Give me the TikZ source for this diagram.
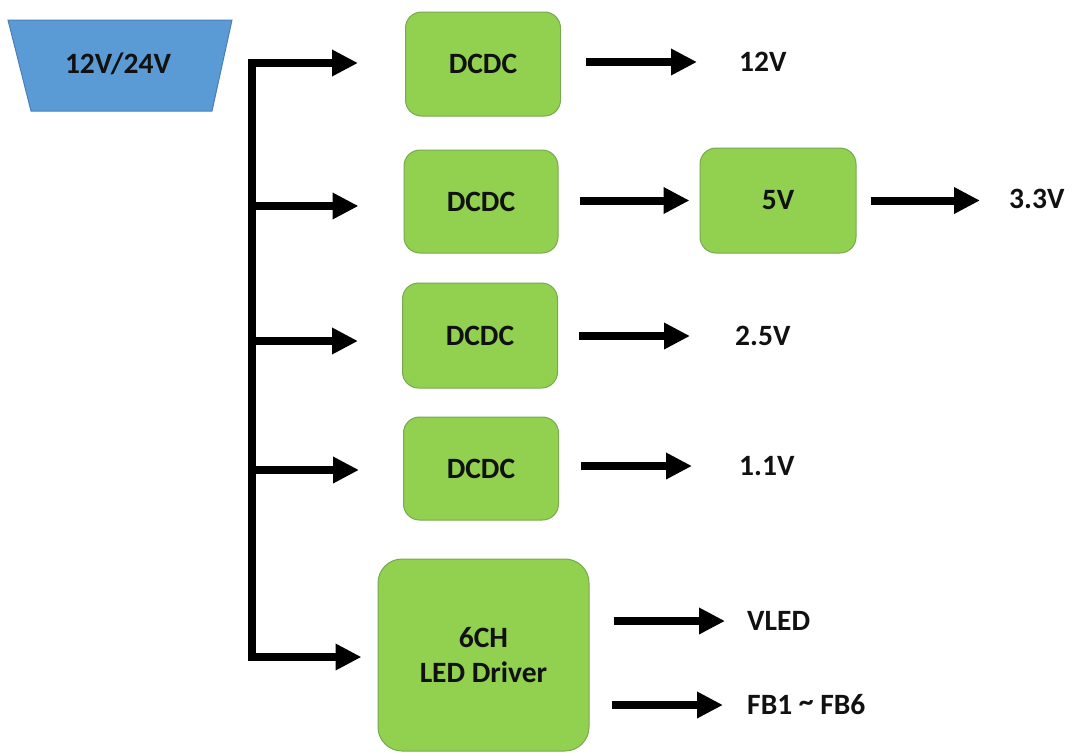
\documentclass[tikz,border=0pt]{standalone}
\usepackage{fontspec}
\setmainfont{Carlito}
\usetikzlibrary{arrows.meta}
\definecolor{srcfill}{HTML}{5B9BD5}
\definecolor{srcdraw}{HTML}{4A7FB5}
\definecolor{boxfill}{HTML}{92D050}
\definecolor{boxdraw}{HTML}{78A850}
\definecolor{txt}{HTML}{111111}
\tikzset{
  lbl/.style={font=\fontsize{29.5}{35}\selectfont\bfseries, text=txt, inner sep=0pt},
  blk/.style={draw=boxdraw, line width=1pt, fill=boxfill, rounded corners=16pt,
    font=\fontsize{29.5}{35}\selectfont\bfseries, text=txt, align=center, inner sep=0pt},
  arr/.style={line width=8pt, -{Triangle[length=26pt,width=25pt]}, line join=miter},
}
\begin{document}
\begin{tikzpicture}[x=1pt,y=-1pt]
\useasboundingbox (0,0) rectangle (1075,755);
% source trapezoid
\draw[fill=srcfill, draw=srcdraw, line width=1pt] (8,20) -- (232,20) -- (212,111) -- (31,111) -- cycle;
\node[lbl] (src) at (118,64) {12V/24V};
% blocks
\node[blk, minimum width=155pt, minimum height=104pt] (d1) at (483,64) {DCDC};
\node[blk, minimum width=154pt, minimum height=103pt] (d2) at (481,201.5) {DCDC};
\node[blk, minimum width=155pt, minimum height=105pt] (d3) at (480,335.5) {DCDC};
\node[blk, minimum width=155pt, minimum height=103pt] (d4) at (481,468.5) {DCDC};
\node[blk, minimum width=156pt, minimum height=105pt] (v5) at (778,200.5) {5V};
\node[blk, minimum width=211pt, minimum height=192pt, rounded corners=24pt] (led) at (483.5,655) {6CH\\LED Driver};
% output labels
\node[lbl, anchor=west] (o12) at (739,62) {12V};
\node[lbl, anchor=west] (o33) at (1009,199) {3.3V};
\node[lbl, anchor=west] (o25) at (735,336) {2.5V};
\node[lbl, anchor=west] (o11) at (739,466) {1.1V};
\node[lbl, anchor=west] (ovl) at (747,621) {VLED};
\node[lbl, anchor=west] (ofb) at (747,705) {FB1 \raisebox{3pt}{\textasciitilde} FB6};
% bus coordinates
\coordinate (b1) at (252,63);
\coordinate (b2) at (252,206);
\coordinate (b3) at (252,341);
\coordinate (b4) at (252,470);
\coordinate (b5) at (252,657);
% bus and branches
\draw[arr] (b5) -- (b1) -- ([xshift=-47pt]d1.west |- b1);
\draw[arr] (b2) -- ([xshift=-45pt]d2.west |- b2);
\draw[arr] (b3) -- ([xshift=-44pt]d3.west |- b3);
\draw[arr] (b4) -- ([xshift=-44pt]d4.west |- b4);
\draw[arr] (b4) -- (b5) -- ([xshift=-16pt]led.west |- b5);
% outputs
\draw[arr] ([xshift=25pt]d1.east |- o12) -- ([xshift=-42pt]o12.west);
\draw[arr] ([xshift=21pt]d2.east |- v5) -- ([xshift=-10pt]v5.west);
\draw[arr] ([xshift=14pt]v5.east) -- ([xshift=-29pt]o33.west |- v5);
\draw[arr] ([xshift=21pt]d3.east |- o25) -- ([xshift=-45pt]o25.west);
\draw[arr] ([xshift=22pt]d4.east |- o11) -- ([xshift=-47pt]o11.west);
\draw[arr] ([xshift=24pt]led.east |- ovl) -- ([xshift=-22pt]ovl.west);
\draw[arr] ([xshift=22pt]led.east |- ofb) -- ([xshift=-24pt]ofb.west);
\end{tikzpicture}
\end{document}
